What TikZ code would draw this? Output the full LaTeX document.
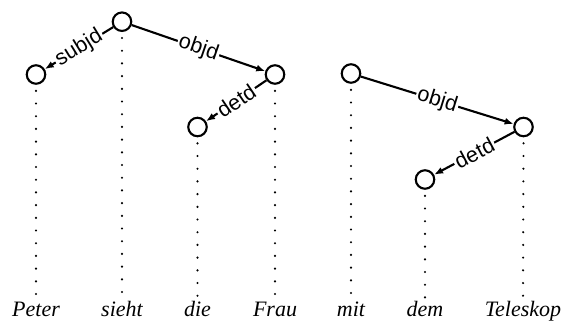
\documentclass[tikz,border=0pt]{standalone}
\usepackage{fontspec}
\setmainfont{Liberation Serif}
\newfontfamily\labelfont{Liberation Sans}
\usetikzlibrary{arrows.meta}

\begin{document}
\begin{tikzpicture}[x=1pt, y=-1pt,
  tok/.style={circle, draw, line width=2.1pt, minimum size=18.5pt, inner sep=0pt},
  word/.style={anchor=base, font=\fontsize{22}{26}\selectfont\itshape},
  dep/.style={line width=2.1pt, -{Latex[length=9pt,width=7pt]}},
  rel/.style={midway, sloped, fill=white, inner sep=1.5pt, font=\fontsize{21.5}{25}\selectfont\labelfont},
  proj/.style={line width=2.4pt, line cap=round, dash pattern=on 0pt off 12.7pt}]

\useasboundingbox (0,0) rectangle (562,325);

% Tokens
\node[tok] (peter)    at (36,74.5)  {};
\node[tok] (sieht)    at (122,21.7) {};
\node[tok] (die)      at (197.5,127) {};
\node[tok] (frau)     at (275,74.5) {};
\node[tok] (mit)      at (351,73.5) {};
\node[tok] (dem)      at (425,179.5) {};
\node[tok] (teleskop) at (523.5,127) {};

% Words
\node[word] (wpeter)    at (36,316.7)    {Peter};
\node[word] (wsieht)    at (122,316.7)   {sieht};
\node[word] (wdie)      at (197.5,316.7) {die};
\node[word] (wfrau)     at (275,316.7)   {Frau};
\node[word] (wmit)      at (351,316.7)   {mit};
\node[word] (wdem)      at (425,316.7)   {dem};
\node[word] (wteleskop) at (523,316.7)   {Teleskop};

% Projection lines
\foreach \t in {peter,sieht,die,frau,mit,dem,teleskop}
  \draw[proj] (\t.south) ++(0,6) -- (w\t.north);

% Dependencies
\draw[dep] (sieht) -- (peter) node[rel] {subjd};
\draw[dep] (sieht) -- (frau) node[rel] {objd};
\draw[dep] (frau) -- (die) node[rel] {detd};
\draw[dep] (mit) -- (teleskop) node[rel] {objd};
\draw[dep] (teleskop) -- (dem) node[rel] {detd};

\end{tikzpicture}
\end{document}
